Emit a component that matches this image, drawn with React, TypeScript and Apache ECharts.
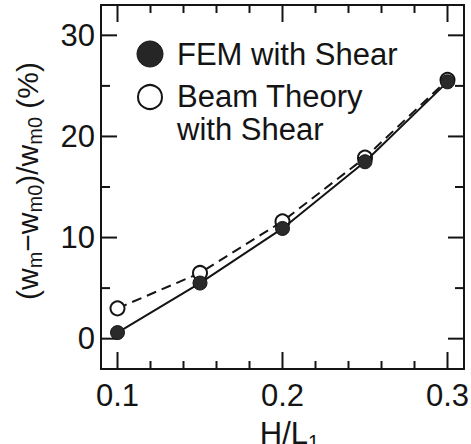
import React, { useEffect, useRef } from "react";
import * as echarts from "echarts";

const xValues = [0.1, 0.15, 0.2, 0.25, 0.3];
const femValues = [0.6, 5.5, 10.9, 17.5, 25.4];
const beamValues = [3.0, 6.5, 11.6, 17.9, 25.6];
const xMajorTicks = [0.1, 0.2, 0.3];
const xMinorTicks = [0.12, 0.14, 0.16, 0.18, 0.22, 0.24, 0.26, 0.28];
const yMajorTicks = [0, 10, 20, 30];
const yMinorTicks = [5, 15, 25];
const legendLabels = ["FEM with Shear", "Beam Theory", "with Shear"];

const FONT = "'Liberation Sans', Arial, Helvetica, sans-serif";
const INK = "#141414";

const X_MIN = 0.09;
const X_MAX = 0.31;
const Y_MIN = -3;
const Y_MAX = 33;

const near = (list: number[], v: number) => list.some((t) => Math.abs(t - v) < 1e-6);

export default function App() {
  const ref = useRef<HTMLDivElement>(null);
  useEffect(() => {
    document.body.style.margin = "0";
    const chart = echarts.init(ref.current!, null, { renderer: "svg" });
    const axisLine = { show: true, onZero: false, lineStyle: { color: INK, width: 2 } };

    const fem = xValues.map((x, i) => [x, femValues[i]]);
    const beam = xValues.map((x, i) => [x, beamValues[i]]);
    chart.setOption({
      animation: false,
      backgroundColor: "#fff",
      grid: { left: 101, right: 7, top: 5, bottom: 75, outerBoundsMode: "none", containLabel: false },
      xAxis: [
        {
          type: "value",
          min: X_MIN,
          max: X_MAX,
          splitLine: { show: false },
          position: "bottom",
          axisLine,
          axisTick: { show: false },
          axisLabel: {
            formatter: (v: number) => (near(xMajorTicks, v) ? v.toFixed(1) : ""),
            fontSize: 31,
            color: INK,
            fontFamily: FONT,
            margin: 11,
          },
          name: "H/L{sub|1}",
          nameLocation: "middle",
          nameGap: 39,
          nameTextStyle: {
            fontSize: 31,
            color: INK,
            fontFamily: FONT,
            lineHeight: 36,
            padding: [0, 0, 0, 14],
            rich: {
              sub: { fontSize: 20, color: INK, fontFamily: FONT, lineHeight: 20, padding: [16, 0, 0, 0] },
            },
          },
        },
        {
          type: "value",
          min: X_MIN,
          max: X_MAX,
          splitLine: { show: false },
          position: "top",
          axisLine,
          axisTick: { show: false },
          axisLabel: { show: false },
        },
      ],
      yAxis: [
        {
          type: "value",
          min: Y_MIN,
          max: Y_MAX,
          splitLine: { show: false },
          position: "left",
          axisLine,
          axisTick: { show: false },
          axisLabel: {
            formatter: (v: number) => (near(yMajorTicks, v) ? String(v) : ""),
            fontSize: 31,
            color: INK,
            fontFamily: FONT,
            margin: 6,
          },
          name: "(w{sub|m}−w{sub|m0})/w{sub|m0} (%)",
          nameLocation: "middle",
          nameGap: 56,
          nameTextStyle: {
            fontSize: 30,
            color: INK,
            fontFamily: FONT,
            lineHeight: 36,
            padding: [0, 0, 0, 12],
            rich: {
              sub: { fontSize: 20, color: INK, fontFamily: FONT, lineHeight: 20, padding: [16, 0, 0, 0] },
            },
          },
        },
        {
          type: "value",
          min: Y_MIN,
          max: Y_MAX,
          splitLine: { show: false },
          position: "right",
          axisLine,
          axisTick: { show: false },
          axisLabel: { show: false },
        },
      ],
      series: [
        {
          name: "Beam Theory with Shear",
          type: "line",
          data: beam,
          symbol: "circle",
          symbolSize: 14,
          lineStyle: { color: INK, width: 2, type: [10, 6] },
          itemStyle: { color: "#fff", borderColor: INK, borderWidth: 2 },
          z: 3,
        },
        {
          name: "FEM with Shear",
          type: "line",
          data: fem,
          symbol: "circle",
          symbolSize: 14,
          lineStyle: { color: INK, width: 2 },
          itemStyle: { color: "#2a2a2a", borderColor: INK, borderWidth: 1 },
          z: 4,
        },
      ],
    });

    // tick marks on all four sides, positioned through the grid's own scales
    const toPx = (x: number, y: number) => chart.convertToPixel({ gridIndex: 0 }, [x, y]) as number[];
    const tickStyle = () => ({ stroke: INK, lineWidth: 2 });
    const ticks: any[] = [];
    const addX = (list: number[], len: number) =>
      list.forEach((v) => {
        const b = toPx(v, Y_MIN);
        const t = toPx(v, Y_MAX);
        ticks.push({ type: "line", shape: { x1: b[0], y1: b[1], x2: b[0], y2: b[1] - len }, style: tickStyle() });
        ticks.push({ type: "line", shape: { x1: t[0], y1: t[1], x2: t[0], y2: t[1] + len }, style: tickStyle() });
      });
    const addY = (list: number[], len: number) =>
      list.forEach((v) => {
        const l = toPx(X_MIN, v);
        const r = toPx(X_MAX, v);
        ticks.push({ type: "line", shape: { x1: l[0], y1: l[1], x2: l[0] + len, y2: l[1] }, style: tickStyle() });
        ticks.push({ type: "line", shape: { x1: r[0], y1: r[1], x2: r[0] - len, y2: r[1] }, style: tickStyle() });
      });
    addX(xMajorTicks, 17);
    addX(xMinorTicks, 8);
    addY(yMajorTicks, 16);
    addY(yMinorTicks, 9);

    chart.setOption({
      graphic: [
        ...ticks,
        { type: "circle", shape: { cx: 150, cy: 54, r: 13 }, style: { fill: "#262626", stroke: INK, lineWidth: 1 } },
        {
          type: "text",
          x: 177,
          y: 54,
          style: { text: legendLabels[0], fontSize: 31, fontFamily: FONT, fill: INK, verticalAlign: "middle" },
        },
        { type: "circle", shape: { cx: 150, cy: 97, r: 12 }, style: { fill: "#fff", stroke: INK, lineWidth: 2 } },
        {
          type: "text",
          x: 177,
          y: 96,
          style: { text: legendLabels[1], fontSize: 31, fontFamily: FONT, fill: INK, verticalAlign: "middle" },
        },
        {
          type: "text",
          x: 177,
          y: 129,
          style: { text: legendLabels[2], fontSize: 31, fontFamily: FONT, fill: INK, verticalAlign: "middle" },
        },
      ],
    });
    return () => chart.dispose();
  }, []);
  return <div ref={ref} style={{ width: 471, height: 444 }} />;
}
